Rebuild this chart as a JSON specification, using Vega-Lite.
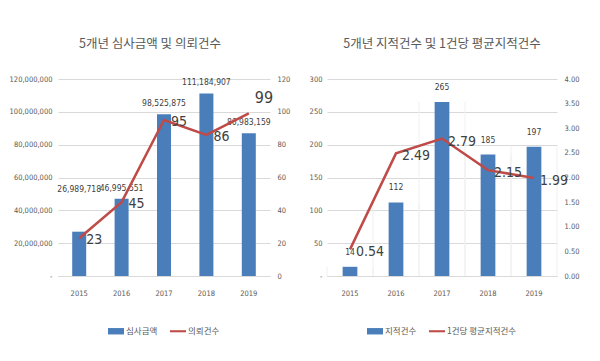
{
  "$schema": "https://vega.github.io/schema/vega-lite/v6.json",
  "padding": {"left": 9, "top": 37, "right": 5, "bottom": 5},
  "spacing": 7,
  "background": "white",
  "resolve": {"scale": {"color": "independent"}, "legend": {"color": "independent"}},
  "config": {
    "view": {"stroke": null},
    "legend": {"layout": {"bottom": {"anchor": "middle"}}},
    "axis": {"labelFont": "DejaVu Sans Condensed", "labelFontSize": 7.5, "labelColor": "#595959", "ticks": false, "title": null, "gridColor": "#d9d9d9", "domainColor": "#d9d9d9"},
    "title": {"font": "Noto Sans CJK KR", "fontSize": 12.5, "fontWeight": "normal", "color": "#595959", "offset": 25}
  },
  "hconcat": [
    {
      "width": 212,
      "height": 197,
      "title": {"text": "5개년 심사금액 및 의뢰건수", "dx": -14},
      "data": {"values": [
        {"year": "2015", "amount": 26989718, "count": 23},
        {"year": "2016", "amount": 46995551, "count": 45},
        {"year": "2017", "amount": 98525875, "count": 95},
        {"year": "2018", "amount": 111184907, "count": 86},
        {"year": "2019", "amount": 86983159, "count": 99}
      ]},
      "encoding": {
        "x": {"field": "year", "type": "ordinal", "scale": {"paddingInner": 0, "paddingOuter": 0}, "axis": {"labelAngle": 0, "labelPadding": 13, "domain": true, "grid": false}}
      },
      "layer": [
        {
          "encoding": {
            "y": {"field": "amount", "type": "quantitative", "scale": {"domain": [0, 120000000]}, "axis": {"orient": "left", "values": [0, 20000000, 40000000, 60000000, 80000000, 100000000, 120000000], "labelExpr": "datum.value === 0 ? '-' : format(datum.value, ',')", "domain": false, "labelPadding": 6}}
          },
          "layer": [
            {
              "mark": {"type": "bar", "width": {"band": 0.33}, "color": "#4a7ebb"},
              "encoding": {
                "color": {"datum": "심사금액", "type": "nominal", "scale": {"domain": ["심사금액", "의뢰건수"], "range": ["#4a7ebb", "#be4b48"]},
                  "legend": {"orient": "bottom", "direction": "horizontal", "title": null, "offset": 26, "symbolSize": 256, "labelFont": "Noto Sans CJK KR", "labelFontSize": 8.5, "labelColor": "#595959", "columnPadding": 12, "labelOffset": 2,
                    "encode": {"symbols": {"update": {
                      "shape": {"signal": "datum.value === '심사금액' ? 'M-1,-0.4H1V0.4H-1Z' : 'M-1,-0.13H1V0.13H-1Z'"},
                      "fill": {"signal": "datum.value === '심사금액' ? '#4a7ebb' : '#be4b48'"},
                      "stroke": {"value": "transparent"},
                      "strokeWidth": {"value": 0},
                      "opacity": {"value": 1}
                    }}}}
                }
              }
            },
            {
              "transform": [{"filter": "datum.year !== '2015'"}],
              "mark": {"type": "text", "baseline": "bottom", "dy": -6, "font": "DejaVu Sans Condensed", "fontSize": 8.5, "color": "#404040"},
              "encoding": {"text": {"field": "amount", "type": "quantitative", "format": ","}}
            },
            {
              "transform": [{"filter": "datum.year === '2015'"}],
              "mark": {"type": "text", "baseline": "bottom", "dy": -38, "font": "DejaVu Sans Condensed", "fontSize": 8.5, "color": "#404040"},
              "encoding": {"text": {"field": "amount", "type": "quantitative", "format": ","}}
            }
          ]
        },
        {
          "encoding": {
            "y": {"field": "count", "type": "quantitative", "scale": {"domain": [0, 120]}, "axis": {"orient": "right", "values": [0, 20, 40, 60, 80, 100, 120], "grid": false, "domain": false, "labelPadding": 7, "minExtent": 25, "maxExtent": 25}}
          },
          "layer": [
            {
              "mark": {"type": "line", "strokeWidth": 2.5},
              "encoding": {"color": {"datum": "의뢰건수", "type": "nominal"}}
            },
            {
              "transform": [{"filter": "datum.year !== '2019'"}],
              "mark": {"type": "text", "align": "left", "baseline": "middle", "dx": 7, "dy": 2, "font": "DejaVu Sans Condensed", "fontSize": 14, "color": "#404040"},
              "encoding": {"text": {"field": "count", "type": "quantitative"}}
            },
            {
              "transform": [{"filter": "datum.year === '2019'"}],
              "mark": {"type": "text", "align": "left", "baseline": "middle", "dx": 6, "dy": -15, "font": "DejaVu Sans Condensed", "fontSize": 16, "color": "#404040"},
              "encoding": {"text": {"field": "count", "type": "quantitative"}}
            }
          ]
        }
      ],
      "resolve": {"scale": {"y": "independent"}}
    },
    {
      "width": 230,
      "height": 197,
      "title": {"text": "5개년 지적건수 및 1건당 평균지적건수"},
      "data": {"values": [
        {"year": "2015", "cases": 14, "avg": 0.54},
        {"year": "2016", "cases": 112, "avg": 2.49},
        {"year": "2017", "cases": 265, "avg": 2.79},
        {"year": "2018", "cases": 185, "avg": 2.15},
        {"year": "2019", "cases": 197, "avg": 1.99}
      ]},
      "encoding": {
        "x": {"field": "year", "type": "ordinal", "scale": {"paddingInner": 0, "paddingOuter": 0}, "axis": {"labelAngle": 0, "labelPadding": 13, "domain": true, "grid": false}}
      },
      "layer": [
        {
          "encoding": {
            "y": {"field": "cases", "type": "quantitative", "scale": {"domain": [0, 300]}, "axis": {"orient": "left", "values": [0, 50, 100, 150, 200, 250, 300], "labelExpr": "datum.value === 0 ? '-' : format(datum.value, 'd')", "domain": false, "labelPadding": 5, "minExtent": 25, "maxExtent": 25}}
          },
          "layer": [
            {"mark": {"type": "rule", "color": "#f0f0f0", "strokeWidth": 1}, "encoding": {"x": {"field": "year", "type": "ordinal", "bandPosition": 0}}},
            {"mark": {"type": "rule", "color": "#f0f0f0", "strokeWidth": 1}, "encoding": {"x": {"field": "year", "type": "ordinal", "bandPosition": 0.5}}},
            {"mark": {"type": "rule", "color": "#f0f0f0", "strokeWidth": 1}, "encoding": {"x": {"field": "year", "type": "ordinal", "bandPosition": 1}}},
            {
              "mark": {"type": "bar", "width": {"band": 0.32}},
              "encoding": {
                "color": {"datum": "지적건수", "type": "nominal", "scale": {"domain": ["지적건수", "1건당 평균지적건수"], "range": ["#4a7ebb", "#be4b48"]},
                  "legend": {"orient": "bottom", "direction": "horizontal", "title": null, "offset": 26, "symbolSize": 256, "labelFont": "Noto Sans CJK KR", "labelFontSize": 8.5, "labelColor": "#595959", "columnPadding": 12, "labelOffset": 2,
                    "encode": {"symbols": {"update": {
                      "shape": {"signal": "datum.value === '지적건수' ? 'M-1,-0.4H1V0.4H-1Z' : 'M-1,-0.13H1V0.13H-1Z'"},
                      "fill": {"signal": "datum.value === '지적건수' ? '#4a7ebb' : '#be4b48'"},
                      "stroke": {"value": "transparent"},
                      "strokeWidth": {"value": 0},
                      "opacity": {"value": 1}
                    }}}}
                }
              }
            },
            {
              "mark": {"type": "text", "baseline": "bottom", "dy": -10, "font": "DejaVu Sans Condensed", "fontSize": 8.5, "color": "#404040"},
              "encoding": {"text": {"field": "cases", "type": "quantitative"}}
            }
          ]
        },
        {
          "encoding": {
            "y": {"field": "avg", "type": "quantitative", "scale": {"domain": [0, 4]}, "axis": {"orient": "right", "values": [0, 0.5, 1, 1.5, 2, 2.5, 3, 3.5, 4], "format": ".2f", "grid": false, "domain": false, "labelPadding": 7}}
          },
          "layer": [
            {
              "mark": {"type": "line", "strokeWidth": 2.5},
              "encoding": {"color": {"datum": "1건당 평균지적건수", "type": "nominal"}}
            },
            {
              "mark": {"type": "text", "align": "left", "baseline": "middle", "dx": 6, "dy": 3, "font": "DejaVu Sans Condensed", "fontSize": 14, "color": "#404040"},
              "encoding": {"text": {"field": "avg", "type": "quantitative", "format": ".2f"}}
            }
          ]
        }
      ],
      "resolve": {"scale": {"y": "independent"}}
    }
  ]
}
